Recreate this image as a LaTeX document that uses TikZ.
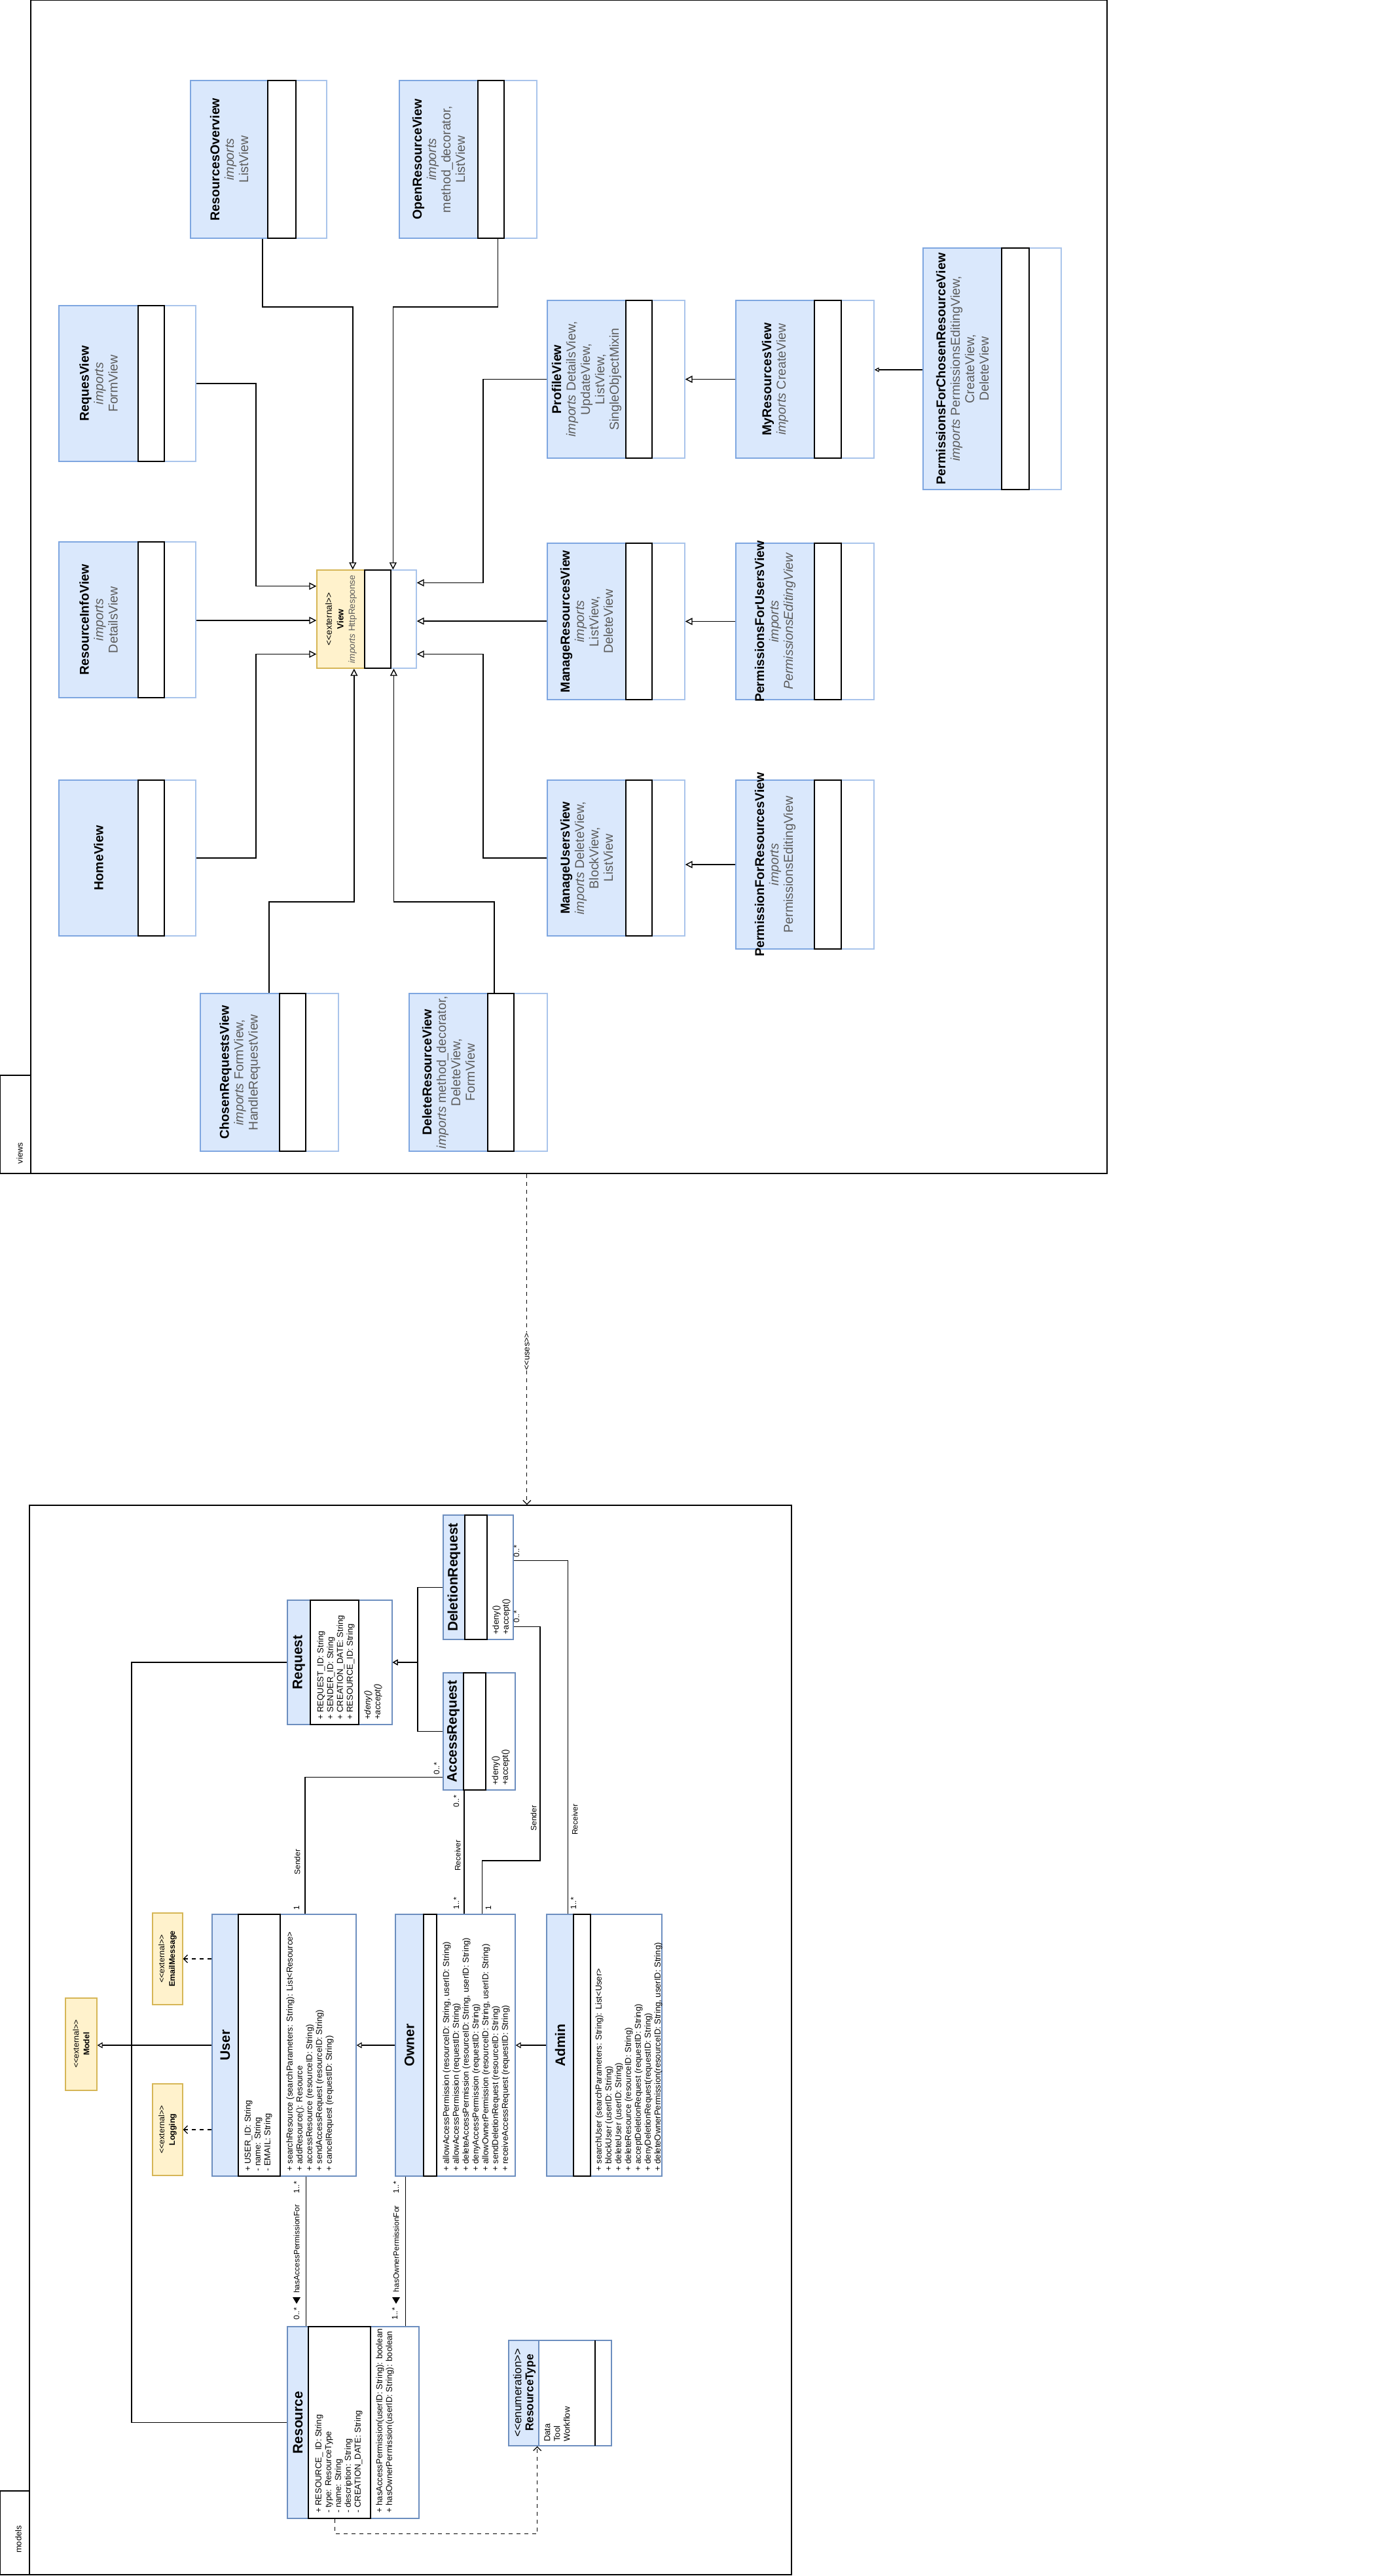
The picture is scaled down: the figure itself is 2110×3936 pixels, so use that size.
\documentclass[tikz,border=0pt]{standalone}
\usepackage{fontspec}
\setmainfont{Liberation Sans}
\usetikzlibrary{arrows.meta,calc,fit}

\definecolor{hdrfill}{HTML}{DAE8FC}
\definecolor{hdrline}{HTML}{7EA6E0}
\definecolor{lightline}{HTML}{A9C4EB}
\definecolor{mline}{HTML}{6C8EBF}
\definecolor{extfill}{HTML}{FFF2CC}
\definecolor{extline}{HTML}{D6B656}
\definecolor{greytext}{HTML}{5C5C5C}

\newcommand{\lgl}{<{}<}
\newcommand{\rgr}{>{}>}
\newcommand{\imp}{{\itshape imports}}
\newcommand{\vt}[1]{{\color{black}\bfseries #1}}

% view class: name, x1, y1, x2, y2, end of header, end of middle compartment, text
\newcommand{\viewclass}[8]{%
  \node[vbox, fit={(#2,#3) (#4,#5)}] (#1) {};
  \draw[vhead] (#2,#3) rectangle (#6,#5);
  \draw[vmid] (#6,#3) rectangle (#7,#5);
  \node[vtext] at ({(#2+#6)/2},{(#3+#5)/2}) {#8};
}
% model class: name, x1, y1, x2, y2, end of header, end of attributes, title
\newcommand{\modelclass}[8]{%
  \node[mbox, fit={(#2,#3) (#4,#5)}] (#1) {};
  \draw[mhead] (#2,#3) rectangle (#6,#5);
  \draw[mattr] (#6,#3) rectangle (#7,#5);
  \node[mtitle] at ({(#2+#6)/2},{(#3+#5)/2}) {#8};
}

\tikzset{
  pkg/.style={draw=black, line width=0.8pt, inner sep=0pt},
  vbox/.style={draw=lightline, fill=white, line width=0.7pt, inner sep=0pt},
  vhead/.style={draw=hdrline, fill=hdrfill, line width=0.7pt},
  vmid/.style={draw=black, fill=white, line width=0.8pt},
  vtext/.style={rotate=90, align=center, text=greytext, inner sep=0pt,
    font=\fontsize{9.8}{11}\selectfont},
  mbox/.style={draw=mline, fill=white, line width=0.7pt, inner sep=0pt},
  mhead/.style={draw=mline, fill=hdrfill, line width=0.7pt},
  mattr/.style={draw=black, fill=white, line width=0.8pt},
  mtitle/.style={rotate=90, inner sep=0pt, font=\fontsize{10.5}{12}\selectfont\bfseries},
  mmember/.style={rotate=90, anchor=north west, align=left, inner sep=0pt,
    font=\fontsize{6.5}{7.5}\selectfont},
  extbox/.style={draw=extline, fill=extfill, line width=0.7pt, inner sep=0pt},
  exttext/.style={rotate=90, align=center, inner sep=0pt, font=\fontsize{6.8}{8.8}\selectfont},
  gen/.style={line width=0.7pt, -{Triangle[open,length=5.5pt,width=5.5pt]}},
  gensmall/.style={line width=0.6pt, -{Triangle[open,length=3.5pt,width=3.5pt]}},
  mgen/.style={line width=0.6pt, -{Triangle[open,length=4pt,width=4.5pt]}},
  assoc/.style={line width=0.7pt},
  dep/.style={line width=0.6pt, dash pattern=on 3pt off 3pt, -{Straight Barb[length=3pt,width=6pt]}},
  alab/.style={rotate=90, inner sep=0.5pt, font=\fontsize{6}{7}\selectfont},
  pkglab/.style={rotate=90, inner sep=0pt, font=\fontsize{6.4}{7}\selectfont},
}

\begin{document}
\begin{tikzpicture}[x=0.5pt,y=-0.5pt]
\useasboundingbox (0,0) rectangle (2110,3936);

% ---------- packages ----------
\node[pkg, fit={(47,0) (1691,1793)}] (viewspkg) {};
\draw[pkg] (0,1643) rectangle (47,1793);
\node[pkglab] at (30,1762) {views};

\node[pkg, fit={(45,2300) (1209,3934)}] (modelspkg) {};
\draw[pkg] (0,3806) rectangle (45,3934);
\node[pkglab] at (28,3880) {models};

% ---------- views ----------
\node[extbox, fit={(484,871) (636,1021)}] (view) {};
\draw[draw=lightline, fill=white, line width=0.7pt] (597,871) rectangle (636,1021);
\draw[vmid] (557,871) rectangle (597,1021);
\node[exttext] at (521,946) {\lgl external\rgr\\ \textbf{View}\\ {\color{greytext}\itshape imports} {\color{greytext}HttpResponse}};

\viewclass{ro}{291}{123}{499}{364}{409}{452}{\vt{ResourcesOverview}\\ \imp\\ ListView}
\viewclass{orv}{610}{123}{820}{364}{730}{770}{\vt{OpenResourceView}\\ \imp\\ method\_decorator,\\ ListView}
\viewclass{rqv}{90}{467}{299}{705}{211}{251}{\vt{RequesView}\\ \imp\\ FormView}
\viewclass{riv}{90}{828}{299}{1066}{211}{251}{\vt{ResourceInfoView}\\ \imp\\ DetailsView}
\viewclass{hv}{90}{1192}{299}{1430}{211}{251}{\vt{HomeView}}
\viewclass{pv}{836}{459}{1046}{700}{956}{996}{\vt{ProfileView}\\ \imp{} DetailsView,\\ UpdateView,\\ ListView,\\ SingleObjectMixin}
\viewclass{mrv}{1124}{459}{1335}{700}{1244}{1285}{\vt{MyResourcesView}\\ \imp{} CreateView}
\viewclass{pfcrv}{1410}{379}{1621}{748}{1530}{1572}{\vt{PermissionsForChosenResourceView}\\ \imp{} PermissionsEditingView,\\ CreateView,\\ DeleteView}
\viewclass{mgrv}{836}{830}{1046}{1069}{956}{996}{\vt{ManageResourcesView}\\ \imp\\ ListView,\\ DeleteView}
\viewclass{pfuv}{1124}{830}{1335}{1069}{1244}{1285}{\vt{PermissionsForUsersView}\\ \imp\\ {\itshape PermissionsEditingView}}
\viewclass{muv}{836}{1192}{1046}{1430}{956}{996}{\vt{ManageUsersView}\\ \imp{} DeleteView,\\ BlockView,\\ ListView}
\viewclass{pfrv}{1124}{1192}{1335}{1450}{1244}{1285}{\vt{PermissionForResourcesView}\\ \imp\\ PermissionsEditingView}
\viewclass{crv}{306}{1518}{517}{1759}{427}{467}{\vt{ChosenRequestsView}\\ \imp{} FormView,\\ HandleRequestView}
\viewclass{drv}{625}{1518}{836}{1759}{745}{785}{\vt{DeleteResourceView}\\ \imp{} method\_decorator,\\ DeleteView,\\ FormView}

% connection points
\coordinate (topbus) at (0,469);
\coordinate (botbus) at (0,1378);
\coordinate (lbus) at (391,0);
\coordinate (rbus) at (738,0);
\coordinate (vT1) at ($(view.north west)!.362!(view.north east)$);
\coordinate (vT2) at ($(view.north west)!.763!(view.north east)$);
\coordinate (vB1) at ($(view.south west)!.375!(view.south east)$);
\coordinate (vB2) at ($(view.south west)!.770!(view.south east)$);
\coordinate (vL1) at ($(view.north west)!.167!(view.south west)$);
\coordinate (vL2) at ($(view.north west)!.513!(view.south west)$);
\coordinate (vL3) at ($(view.north west)!.853!(view.south west)$);
\coordinate (vR1) at ($(view.north east)!.133!(view.south east)$);
\coordinate (vR2) at ($(view.north east)!.52!(view.south east)$);
\coordinate (vR3) at ($(view.north east)!.853!(view.south east)$);
\coordinate (roB) at ($(ro.south west)!.529!(ro.south east)$);
\coordinate (orvB) at ($(orv.south west)!.714!(orv.south east)$);
\coordinate (crvT) at ($(crv.north west)!.498!(crv.north east)$);
\coordinate (drvT) at ($(drv.north west)!.616!(drv.north east)$);
\coordinate (mrvE) at ($(mrv.north east)!.44!(mrv.south east)$);

\draw[gen] (roB) |- (vT1 |- topbus) -- (vT1);
\draw[gen] (orvB) |- (vT2 |- topbus) -- (vT2);
\draw[gen] (rqv.east) -| (lbus |- vL1) -- (vL1);
\draw[gen] (vL2 -| riv.east) -- (vL2);
\draw[gen] (hv.east) -| (lbus |- vL3) -- (vL3);
\draw[gen] (pv.west) -| (rbus |- vR1) -- (vR1);
\draw[gen] (vR2 -| mgrv.west) -- (vR2);
\draw[gen] (muv.west) -| (rbus |- vR3) -- (vR3);
\draw[gen] (crvT) |- (vB1 |- botbus) -- (vB1);
\draw[gen] (drvT) |- (vB2 |- botbus) -- (vB2);
\draw[gen] (mrv.west) -- (pv.east);
\draw[gensmall] (mrvE -| pfcrv.west) -- (mrvE);
\draw[gen] (pfuv.west) -- (mgrv.east);
\draw[gen] (pfrv.west) -- (pfrv.west -| muv.east);

% ---------- views use models ----------
\coordinate (usesS) at ($(viewspkg.south west)!.461!(viewspkg.south east)$);
\draw[dep] (usesS) -- (usesS |- modelspkg.north);
\node[alab, fill=white, font=\fontsize{6.4}{7}\selectfont] at (805,2065) {\lgl uses\rgr};

% ---------- models ----------
\modelclass{req}{439}{2445}{599}{2635}{474}{548}{Request}
\modelclass{del}{677}{2315}{784}{2505}{710}{744}{DeletionRequest}
\modelclass{acc}{677}{2556}{787}{2735}{708}{742}{AccessRequest}
\modelclass{user}{324}{2925}{544}{3325}{364}{428}{User}
\modelclass{owner}{604}{2925}{787}{3325}{647}{667}{Owner}
\modelclass{admin}{835}{2925}{1011}{3325}{876}{902}{Admin}
\modelclass{res}{439}{3555}{640}{3848}{471}{566}{Resource}

\node[mbox, fit={(777,3576) (934,3737)}] (rtype) {};
\draw[mhead] (777,3576) rectangle (823,3737);
\draw[black, line width=0.8pt] (909,3576) -- (909,3737);
\node[rotate=90, align=center, inner sep=0pt, font=\fontsize{8.6}{9.2}\selectfont] at (801,3656) {\lgl enumeration\rgr\\ \textbf{ResourceType}};
\node[mmember] at (831,3731) {Data\\ Tool\\ Workflow};

\node[extbox, fit={(100,3053) (148,3194)}] (model) {};
\node[exttext, font=\fontsize{6.2}{8}\selectfont] at (124,3123) {\lgl external\rgr\\ \textbf{Model}};
\node[extbox, fit={(233,2923) (279,3063)}] (email) {};
\node[exttext, font=\fontsize{6.2}{8}\selectfont] at (256,2993) {\lgl external\rgr\\ \textbf{EmailMessage}};
\node[extbox, fit={(233,3184) (279,3324)}] (logging) {};
\node[exttext, font=\fontsize{6.2}{8}\selectfont] at (256,3254) {\lgl external\rgr\\ \textbf{Logging}};

% members
\node[mmember] at (373,3318) {+ USER\_ID: String\\ - name: String\\ - EMAIL: String};
\node[mmember] at (437,3318) {+ searchResource (searchParameters: String): List<Resource>\\ + addResource(): Resource\\ + accessResource (resourceID: String)\\ + sendAccessRequest (resourceID: String)\\ + cancelRequest (requestID: String)};
\node[mmember] at (484,2628) {+ REQUEST\_ID: String\\ + SENDER\_ID: String\\ + CREATION\_DATE: String\\ + RESOURCE\_ID: String};
\node[mmember] at (556,2628) {\itshape +deny()\\ \itshape +accept()};
\node[mmember] at (752,2498) {+deny()\\ +accept()};
\node[mmember] at (751,2728) {+deny()\\ +accept()};
\node[mmember] at (676,3318) {+ allowAccessPermission (resourceID: String, userID: String)\\ + allowAccessPermission (requestID: String)\\ + deleteAccessPermission (resourceID: String, userID: String)\\ + denyAccessPermission (requestID: String)\\ + allowOwnerPermission (resourceID: String, userID: String)\\ + sendDeletionRequest (resourceID: String)\\ + receiveAccessRequest (requestID: String)};
\node[mmember] at (909,3318) {+ searchUser (searchParameters: String): List<User>\\ + blockUser (userID: String)\\ + deleteUser (userID: String)\\ + deleteResource (resourceID: String)\\ + acceptDeletionRequest (requestID: String)\\ + denyDeletionRequest(requestID: String)\\ + deleteOwnerPermission(resourceID: String, userID: String)};
\node[mmember] at (481,3840) {+ RESOURCE\_ ID: String\\ - type: ResourceType\\ - name: String\\ - description: String\\ - CREATION\_DATE: String};
\node[mmember] at (574,3840) {+ hasAccessPermission(userID: String): boolean\\ + hasOwnerPermission(userID: String): boolean};

% connection points
\coordinate (userT) at ($(user.north west)!.645!(user.north east)$);
\coordinate (userB) at ($(user.south west)!.65!(user.south east)$);
\coordinate (ownR) at ($(owner.north west)!.574!(owner.north east)$);
\coordinate (ownS) at ($(owner.north west)!.721!(owner.north east)$);
\coordinate (ownB) at ($(owner.south west)!.087!(owner.south east)$);
\coordinate (admT) at ($(admin.north west)!.1875!(admin.north east)$);
\coordinate (accL) at ($(acc.north west)!.888!(acc.south west)$);
\coordinate (delUp) at ($(del.north east)!.368!(del.south east)$);
\coordinate (delLo) at ($(del.north east)!.895!(del.south east)$);
\coordinate (delL) at ($(del.north west)!.579!(del.south west)$);
\coordinate (resB) at ($(res.south west)!.363!(res.south east)$);
\coordinate (rtB) at ($(rtype.south west)!.28!(rtype.south east)$);
\coordinate (sbus) at (825,2843);
\coordinate (gbus) at (638,0);
\coordinate (lbusm) at (201,0);

% associations
\draw[assoc] (userT) |- (accL);
\draw[assoc] (ownR) -- (ownR |- acc.south);
\draw[assoc] (ownS) |- (sbus) |- (delLo);
\draw[assoc] (admT) |- (delUp);
\draw[assoc] (userB) -- (userB |- res.north);
\draw[assoc] (ownB) -- (ownB |- res.north);
\draw[assoc] (req.west) -| (lbusm |- res.west) -- (res.west);
\draw[dep] (resB) -- ++(0,23) -| (rtB);

% generalizations and dependencies
\draw[mgen] (acc.west) -| (gbus |- req.east) -- (req.east);
\draw[mgen] (delL) -| (gbus |- req.east) -- (req.east);
\draw[mgen] (owner.west) -- (user.east);
\draw[mgen] (admin.west) -- (owner.east);
\draw[mgen] (user.west) -- (user.west -| model.east);
\draw[dep] (email.east -| user.west) -- (email.east);
\draw[dep] (logging.east -| user.west) -- (logging.east);

% association labels
\node[alab] at (453,2915) {1};
\node[alab] at (667,2702) {0..*};
\node[alab] at (454,2845) {Sender};
\node[alab] at (697,2752) {0..*};
\node[alab] at (699,2835) {Receiver};
\node[alab] at (697,2908) {1..*};
\node[alab] at (746,2915) {1};
\node[alab] at (815,2778) {Sender};
\node[alab] at (789,2470) {0..*};
\node[alab] at (789,2370) {0..*};
\node[alab] at (878,2780) {Receiver};
\node[alab] at (876,2908) {1..*};
\node[alab] at (453,3342) {1..*};
\node[alab] at (453,3436) {hasAccessPermissionFor};
\fill (447,3510) -- (459,3510) -- (453,3520) -- cycle;
\node[alab] at (453,3535) {0..*};
\node[alab] at (605,3342) {1..*};
\node[alab] at (605,3436) {hasOwnerPermissionFor};
\fill (599,3510) -- (611,3510) -- (605,3520) -- cycle;
\node[alab] at (603,3535) {1..*};
\end{tikzpicture}
\end{document}
